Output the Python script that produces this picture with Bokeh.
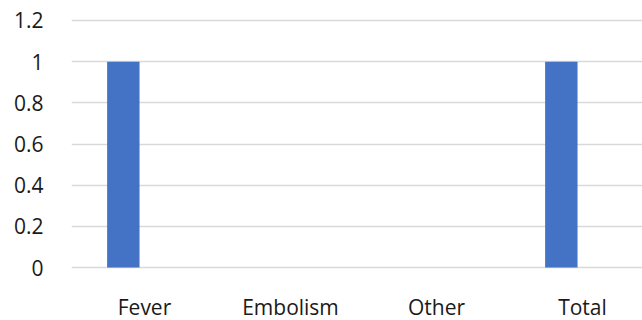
from bokeh.plotting import figure
from bokeh.models import Range1d, FixedTicker, ColumnDataSource
from bokeh.transform import dodge
from bokeh.embed import file_html
from bokeh.resources import INLINE

categories = ["Fever", "Embolism", "Other", "Total"]
values = [1, 0, 0, 1]
y_ticks = [0, 0.2, 0.4, 0.6, 0.8, 1.0, 1.2]
y_tick_labels = ["0", "0.2", "0.4", "0.6", "0.8", "1", "1.2"]

FONT = "Open Sans"
TXT = "#1a1a1a"
PAD = 0.0097

idx = [i + 0.5 for i in range(len(categories))]
src = ColumnDataSource(dict(x=idx, top=values, cat=categories))

p = figure(frame_width=571, frame_height=251, output_backend="svg", toolbar_location=None,
           x_range=Range1d(0, 571 / 146), y_range=Range1d(-PAD, 1.2 + PAD),
           min_border_left=71, min_border_right=0, min_border_top=18, min_border_bottom=51)
p.outline_line_color = None
p.background_fill_color = "white"
p.border_fill_color = "white"

p.vbar(x=dodge("x", -0.145, range=p.x_range), top="top", width=0.222, source=src,
       fill_color="#4472C4", line_color=None)

# y axis
p.yaxis.ticker = FixedTicker(ticks=y_ticks)
p.yaxis.major_label_overrides = {t: l for t, l in zip(y_ticks, y_tick_labels)}
p.yaxis.axis_line_color = None
p.yaxis.major_tick_line_color = None
p.yaxis.minor_tick_line_color = None
p.yaxis.major_label_standoff = 22
p.yaxis.major_label_text_font = FONT
p.yaxis.major_label_text_font_size = "21px"
p.yaxis.major_label_text_color = TXT

# x axis
p.xaxis.ticker = FixedTicker(ticks=idx)
p.xaxis.major_label_overrides = {t: c for t, c in zip(idx, categories)}
p.xaxis.axis_line_color = None
p.xaxis.major_tick_line_color = None
p.xaxis.minor_tick_line_color = None
p.xaxis.major_label_standoff = 17
p.xaxis.major_label_text_font = FONT
p.xaxis.major_label_text_font_size = "21px"
p.xaxis.major_label_text_color = TXT

p.xgrid.grid_line_color = None
p.ygrid.ticker = FixedTicker(ticks=y_ticks)
p.ygrid.grid_line_color = "#d9d9d9"
p.ygrid.grid_line_width = 1.5

open("out.html", "w").write(file_html(p, INLINE))
